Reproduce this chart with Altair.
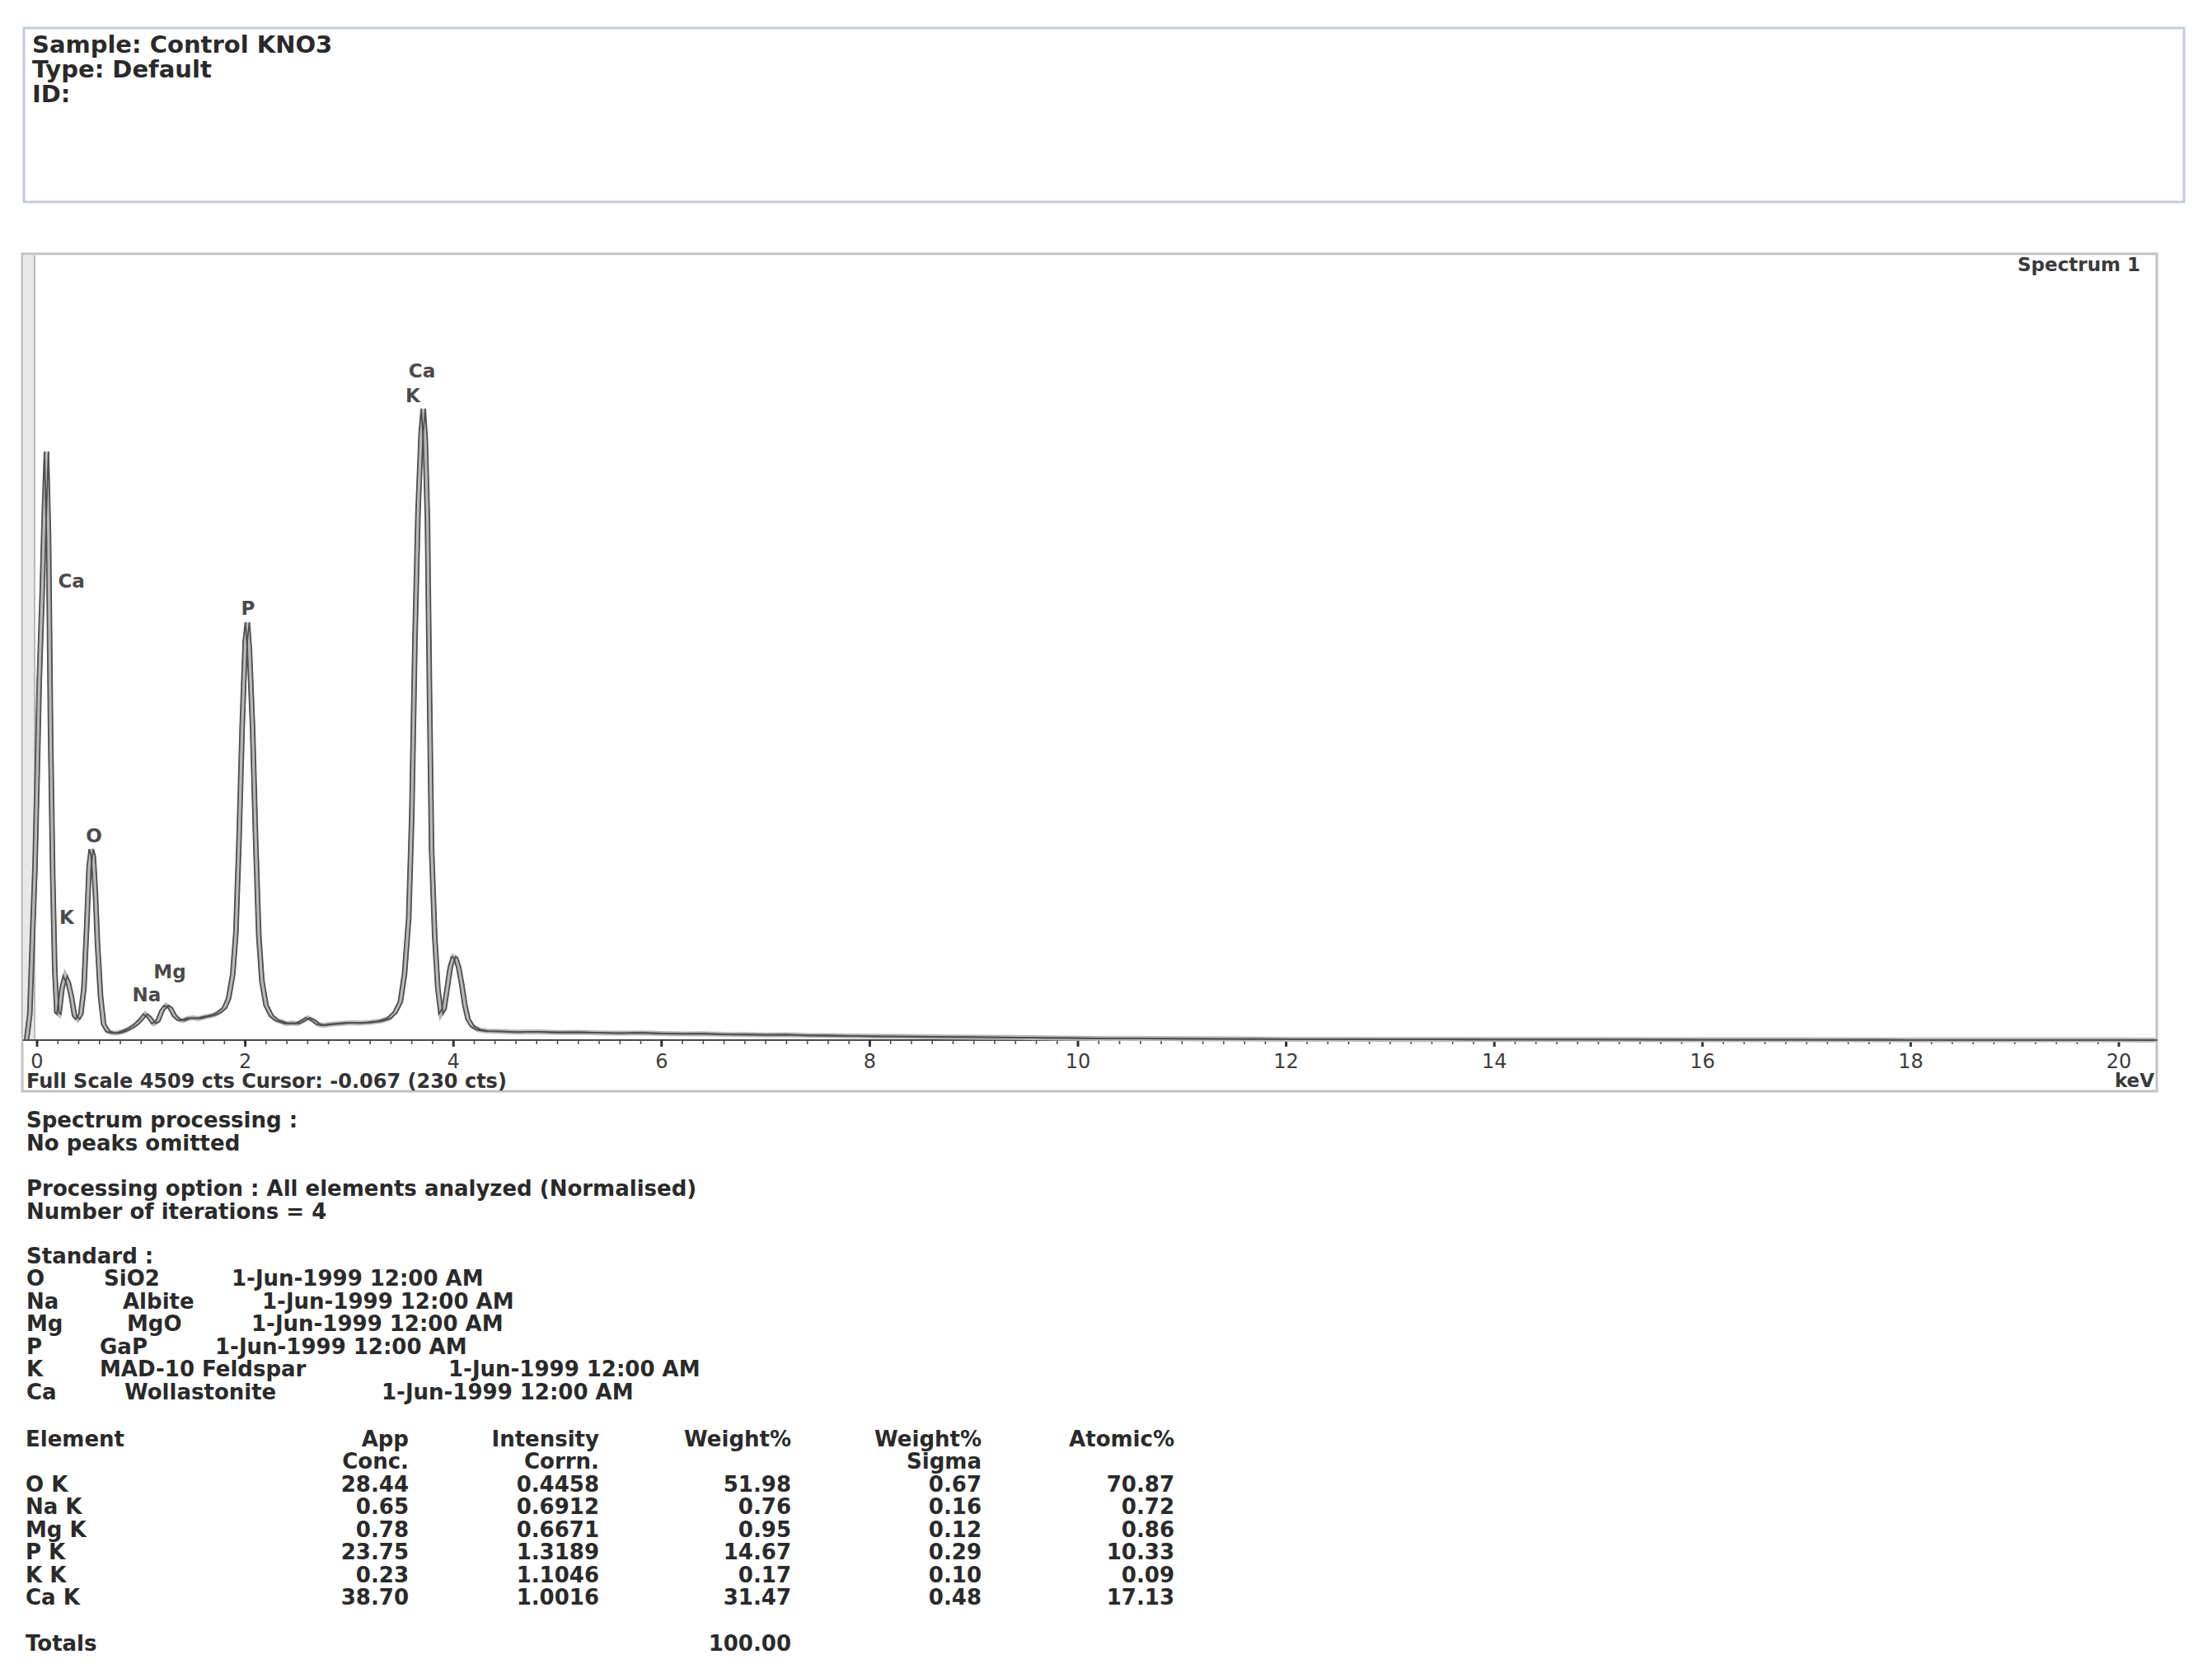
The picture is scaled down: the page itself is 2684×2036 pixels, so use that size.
import altair as alt
import pandas as pd

kev = [-0.10, -0.07, -0.05, -0.02, 0.00, 0.02, 0.05, 0.07, 0.09, 0.11, 0.13, 0.15, 0.17, 0.19,
       0.21, 0.24, 0.27, 0.30, 0.33, 0.36, 0.39, 0.42, 0.45, 0.48, 0.50, 0.52, 0.54, 0.56, 0.58,
       0.61, 0.64, 0.68, 0.72, 0.76, 0.80, 0.85, 0.90, 0.95, 1.00, 1.04, 1.08, 1.12, 1.16, 1.20,
       1.24, 1.28, 1.32, 1.36, 1.40, 1.45, 1.50, 1.55, 1.60, 1.65, 1.70, 1.75, 1.80, 1.84, 1.88,
       1.91, 1.94, 1.97, 2.00, 2.02, 2.04, 2.07, 2.10, 2.13, 2.16, 2.20, 2.25, 2.30, 2.35, 2.40,
       2.45, 2.50, 2.55, 2.60, 2.65, 2.70, 2.75, 2.80, 2.90, 3.00, 3.10, 3.20, 3.30, 3.38, 3.44,
       3.49, 3.53, 3.57, 3.60, 3.63, 3.66, 3.69, 3.71, 3.73, 3.75, 3.77, 3.79, 3.82, 3.85, 3.88,
       3.91, 3.94, 3.97, 4.00, 4.02, 4.05, 4.08, 4.11, 4.14, 4.18, 4.24, 4.32, 4.45, 4.6, 4.8,
       5.0, 5.2, 5.4, 5.6, 5.8, 6.0, 6.2, 6.4, 6.6, 6.8, 7.0, 7.2, 7.4, 7.6, 7.8, 8.0, 8.3, 8.6,
       9.0, 9.4, 9.8, 10.2, 10.6, 11.0, 11.5, 12.0, 12.5, 13.0, 13.5, 14.0, 15.0, 16.0, 17.0,
       18.0, 19.0, 20.0, 20.35]
counts = [5, 150, 500, 1000, 1500, 2050, 2600, 3050, 3390, 2900, 1750, 950, 400, 160,
          150, 300, 370, 330, 250, 140, 120, 150, 300, 700, 1000, 1100, 1060, 850, 560,
          250, 90, 50, 42, 40, 45, 55, 70, 90, 120, 150, 130, 95, 110, 170,
          200, 185, 140, 118, 112, 125, 128, 124, 132, 138, 145, 160, 185, 240, 380,
          620, 1150, 1800, 2300, 2406, 2250, 1800, 1150, 600, 340, 200, 140, 115, 105, 95,
          98, 95, 110, 128, 115, 92, 85, 90, 95, 100, 98, 102, 110, 125, 160,
          220, 380, 700, 1300, 2300, 3050, 3500, 3636, 3450, 3000, 2000, 1100, 600, 300, 150,
          180, 300, 420, 480, 475, 420, 320, 200, 120, 80, 60, 52, 50, 46, 48,
          44, 45, 42, 40, 42, 38, 36, 37, 33, 32, 30, 31, 27, 26, 24, 22, 21, 19,
          17, 15, 12, 10, 9, 8, 7, 5, 5, 4, 4, 3, 3, 2, 2,
          1, 1, 1, 0]

peak_labels = ["Ca", "K", "O", "Na", "Mg", "P", "Ca", "K"]
peak_kev = [0.33, 0.285, 0.546, 1.053, 1.275, 2.027, 3.698, 3.61]
peak_cts = [2639, 702, 1172, 256, 389, 2482, 3849, 3707]

major_ticks = [0, 2, 4, 6, 8, 10, 12, 14, 16, 18, 20]
major_labels = ["0", "2", "4", "6", "8", "10", "12", "14", "16", "18", "20"]
minor_ticks = [0, 0.2, 0.4, 0.6, 0.8, 1, 1.2, 1.4, 1.6, 1.8, 2, 2.2, 2.4, 2.6, 2.8, 3, 3.2, 3.4, 3.6, 3.8,
               4, 4.2, 4.4, 4.6, 4.8, 5, 5.2, 5.4, 5.6, 5.8, 6, 6.2, 6.4, 6.6, 6.8, 7, 7.2, 7.4, 7.6, 7.8,
               8, 8.2, 8.4, 8.6, 8.8, 9, 9.2, 9.4, 9.6, 9.8, 10, 10.2, 10.4, 10.6, 10.8, 11, 11.2, 11.4,
               11.6, 11.8, 12, 12.2, 12.4, 12.6, 12.8, 13, 13.2, 13.4, 13.6, 13.8, 14, 14.2, 14.4, 14.6,
               14.8, 15, 15.2, 15.4, 15.6, 15.8, 16, 16.2, 16.4, 16.6, 16.8, 17, 17.2, 17.4, 17.6, 17.8,
               18, 18.2, 18.4, 18.6, 18.8, 19, 19.2, 19.4, 19.6, 19.8, 20]

header_lines = ["Sample: Control KNO3", "Type: Default", "ID:"]
spectrum_title = "Spectrum 1"
footer_line = "Full Scale 4509 cts Cursor: -0.067  (230 cts)"
unit_label = "keV"
processing_lines = ["Spectrum processing :", "No peaks omitted",
                    "Processing option : All elements analyzed (Normalised)",
                    "Number of iterations = 4", "Standard :"]
std_element = ["O", "Na", "Mg", "P", "K", "Ca"]
std_name = ["SiO2", "Albite", "MgO", "GaP", "MAD-10 Feldspar", "Wollastonite"]
std_date = ["1-Jun-1999 12:00 AM"] * 6

table_head1 = ["App", "Intensity", "Weight%", "Weight%", "Atomic%"]
table_head2 = ["Conc.", "Corrn.", "", "Sigma", ""]
table_elements = ["O K", "Na K", "Mg K", "P K", "K K", "Ca K"]
app_conc = ["28.44", "0.65", "0.78", "23.75", "0.23", "38.70"]
intensity_corrn = ["0.4458", "0.6912", "0.6671", "1.3189", "1.1046", "1.0016"]
weight_pct = ["51.98", "0.76", "0.95", "14.67", "0.17", "31.47"]
weight_sigma = ["0.67", "0.16", "0.12", "0.29", "0.10", "0.48"]
atomic_pct = ["70.87", "0.72", "0.86", "10.33", "0.09", "17.13"]
weight_total = "100.00"

# ---------------- layout (page pixel coordinates) ----------------
W, H, M = 2668, 2020, 8
FONT = "DejaVu Sans"
TXT = "#2a2a2a"

header_y = [55, 85, 115]
proc_y = [1360, 1388, 1443, 1471, 1525]
std_y = [1552, 1580, 1607, 1635, 1662, 1690]
std_x2 = [126, 149, 154, 121, 121, 151]
std_x3 = [281, 318, 305, 261, 544, 463]
tab_head_y = [1747, 1774]
tab_row_y = [1802, 1829, 1857, 1884, 1912, 1939]
tab_total_y = 1995
tab_col_x = [496, 727, 960, 1191, 1425]
AXIS_Y = 1262

PXS = alt.Scale(domain=[0, W], range=[-M, W - M], nice=False, zero=False)
PYS = alt.Scale(domain=[0, H], range=[-M, H - M], nice=False, zero=False)
KEV = alt.Scale(domain=[0, 20], range=[45 - M, 2571 - M], nice=False, zero=False)
CTS = alt.Scale(domain=[0, 4509], range=[AXIS_Y - M, 312 - M], nice=False, zero=False)


def v(p):
    return p - M


def ptext(rows, align, size, weight="bold", color=TXT):
    df = pd.DataFrame(rows, columns=["t", "px", "py"])
    return alt.Chart(df).mark_text(align=align, baseline="middle", font=FONT, fontSize=size,
                                   fontWeight=weight, color=color).encode(
        x=alt.X("px:Q", scale=PXS, axis=None),
        y=alt.Y("py:Q", scale=PYS, axis=None),
        text="t:N")


def box(x0, y0, x1, y1, stroke, sw, fill="white"):
    return alt.Chart(pd.DataFrame({"a": [0]})).mark_rect(fill=fill, stroke=stroke, strokeWidth=sw).encode(
        x=alt.value(v(x0)), x2=alt.value(v(x1)), y=alt.value(v(y0)), y2=alt.value(v(y1)))


def hline(x0, x1, y, color, sw):
    return alt.Chart(pd.DataFrame({"a": [0]})).mark_rule(color=color, strokeWidth=sw).encode(
        x=alt.value(v(x0)), x2=alt.value(v(x1)), y=alt.value(v(y)))


def vline(x, y0, y1, color, sw):
    return alt.Chart(pd.DataFrame({"a": [0]})).mark_rule(color=color, strokeWidth=sw).encode(
        x=alt.value(v(x)), y=alt.value(v(y0)), y2=alt.value(v(y1)))


# ---------------- boxes ----------------
header_box = box(29, 34, 2650, 245, "#c4ccd8", 3)
spec_box = box(27, 308, 2617, 1324, "#c2c2c2", 3)
yaxis_band = box(28, 310, 42, AXIS_Y, "#d4d4d4", 0, fill="#e8e8e8")
yaxis_line = vline(42, 310, AXIS_Y, "#b8b8b8", 2)
xaxis_line = hline(28, 2617, AXIS_Y, "#4a4a4a", 2)

# ---------------- spectrum ----------------
spec_df = pd.DataFrame({"keV": kev, "cts": counts})
enc = dict(x=alt.X("keV:Q", scale=KEV, axis=None),
           y=alt.Y("cts:Q", scale=CTS, axis=None),
           order=alt.Order("keV:Q"))
spec_fill = alt.Chart(spec_df).mark_line(color="#b9b9b9", strokeWidth=6).encode(**enc)
spec_left = alt.Chart(spec_df).mark_line(color="#4f4f4f", strokeWidth=1.8, xOffset=-2.5).encode(**enc)
spec_right = alt.Chart(spec_df).mark_line(color="#4f4f4f", strokeWidth=1.8, xOffset=2.5).encode(**enc)

minor_df = pd.DataFrame({"keV": minor_ticks})
minor = alt.Chart(minor_df).mark_rule(color="#4a4a4a", strokeWidth=1.6).encode(
    x=alt.X("keV:Q", scale=KEV, axis=None),
    y=alt.value(v(AXIS_Y)), y2=alt.value(v(AXIS_Y + 5)))

major_df = pd.DataFrame({"keV": major_ticks, "t": major_labels})
major = alt.Chart(major_df).mark_rule(color="#333333", strokeWidth=3).encode(
    x=alt.X("keV:Q", scale=KEV, axis=None),
    y=alt.value(v(AXIS_Y)), y2=alt.value(v(AXIS_Y + 8)))
major_text = alt.Chart(major_df).mark_text(align="center", baseline="middle", font=FONT, fontSize=24,
                                           color="#3c3c3c").encode(
    x=alt.X("keV:Q", scale=KEV, axis=None),
    y=alt.value(v(1289)),
    text="t:N")

lab_df = pd.DataFrame({"t": peak_labels, "keV": peak_kev, "cts": peak_cts})
peak_text = alt.Chart(lab_df).mark_text(align="center", baseline="middle", font=FONT, fontSize=23,
                                        fontWeight="bold", color="#4a4a4a").encode(
    x=alt.X("keV:Q", scale=KEV, axis=None),
    y=alt.Y("cts:Q", scale=CTS, axis=None),
    text="t:N")

# ---------------- texts ----------------
head_rows = [(t, 39, y) for t, y in zip(header_lines, header_y)]
body_left = [(t, 32, y) for t, y in zip(processing_lines, proc_y)]
for e, n, d, y, x2, x3 in zip(std_element, std_name, std_date, std_y, std_x2, std_x3):
    body_left += [(e, 32, y), (n, x2, y), (d, x3, y)]
body_left += [("Element", 31, tab_head_y[0]), ("Totals", 31, tab_total_y)]
body_left += [(e, 31, y) for e, y in zip(table_elements, tab_row_y)]

right_rows = []
for t1, t2, x in zip(table_head1, table_head2, tab_col_x):
    right_rows.append((t1, x, tab_head_y[0]))
    if t2:
        right_rows.append((t2, x, tab_head_y[1]))
for col, x in zip([app_conc, intensity_corrn, weight_pct, weight_sigma, atomic_pct], tab_col_x):
    right_rows += [(val, x, y) for val, y in zip(col, tab_row_y)]
right_rows.append((weight_total, tab_col_x[2], tab_total_y))

header_text = ptext(head_rows, "left", 29)
footer_text = ptext([(footer_line, 32, 1313)], "left", 24, color="#333333")
title_text = ptext([(spectrum_title, 2597, 322), (unit_label, 2614, 1312)], "right", 23,
                   color="#3a3a3a")
left_text = ptext(body_left, "left", 26)
right_text = ptext(right_rows, "right", 26)

chart = alt.layer(
    header_box, spec_box, yaxis_band, yaxis_line, xaxis_line,
    minor, major, major_text, spec_fill, spec_left, spec_right, peak_text,
    header_text, footer_text, title_text, left_text, right_text
).resolve_scale(x="independent", y="independent").properties(
    width=W, height=H, autosize=alt.AutoSizeParams(type="none"), padding=0, background="white"
).configure_view(stroke=None)

chart.save("out.html", embed_options={"renderer": "svg", "actions": False})
